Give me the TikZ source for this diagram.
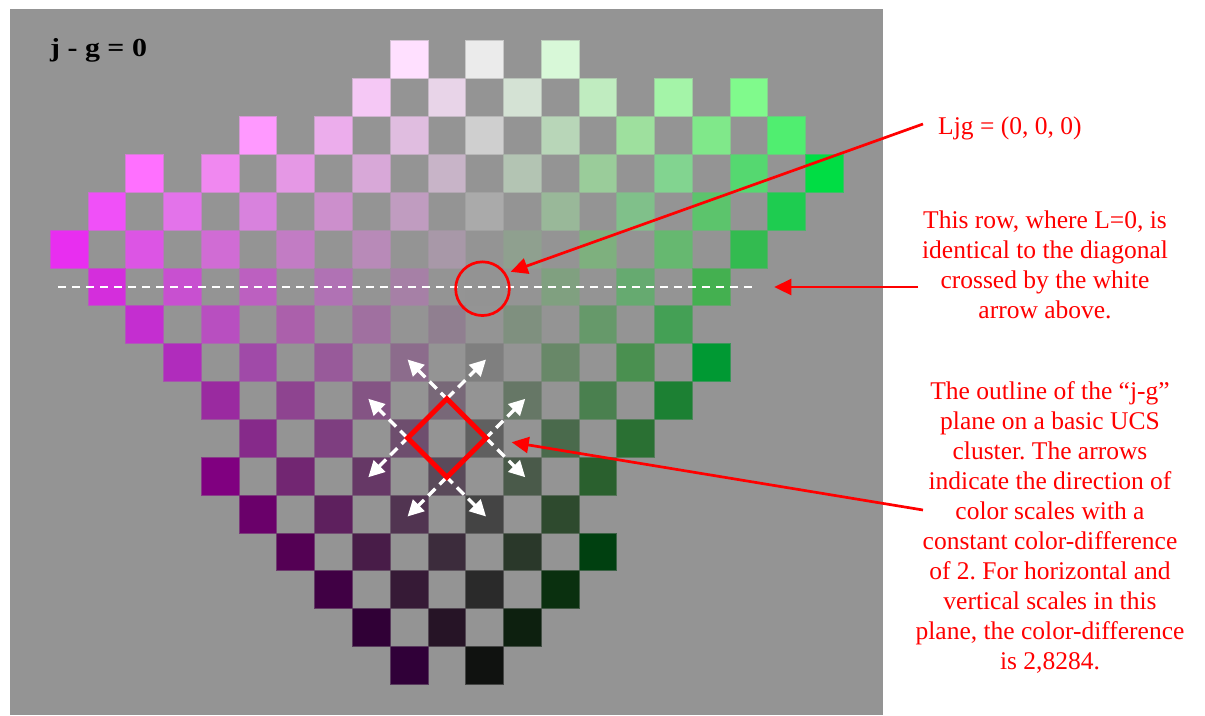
\documentclass[tikz,border=0pt]{standalone}
\usepackage{graphicx}
\usepackage{fontspec}
\setmainfont{Liberation Serif}
\frenchspacing
\usetikzlibrary{arrows.meta,shapes.geometric,calc}
\pgfdeclarelayer{front}
\pgfsetlayers{main,front}
\definecolor{bg}{HTML}{949494}
\definecolor{annot}{HTML}{FF0000}
\tikzset{
  cellsq/.style={line width=0.8pt},
  redarrow/.style={draw=annot, line width=2.7pt, -{Triangle[length=17pt,width=16pt]}},
  whitearrow/.style={draw=white, line width=3.4pt, dash pattern=on 10pt off 6pt,
     {Triangle[length=16pt,width=16pt]}-{Triangle[length=16pt,width=16pt]}},
  rowline/.style={draw=white, line width=2pt, dash pattern=on 8pt off 6pt},
  redtext/.style={text=annot, font=\fontsize{25.5}{30}\selectfont, align=center, inner sep=0pt},
  zeromark/.style={circle, draw=annot, line width=2.7pt, minimum size=53.7pt, inner sep=0pt, outer sep=6pt},
  clusterbox/.style={diamond, aspect=1, draw=annot, line width=5pt, minimum width=78.5pt,
     minimum height=78.5pt, inner sep=0pt, outer sep=0pt},
}
\begin{document}
\begin{tikzpicture}[x=1pt,y=-1pt]
\useasboundingbox (0,0) rectangle (1205,715);
\fill[bg] (10,9) rectangle (882.7,715);
% coloured cells of the checkerboard
\foreach \ri/\ci/\hx in {
 0/9/FFE0FF, 0/11/EBEBEB, 0/13/D8F8D8,
 1/8/F5C8F5, 1/10/E8D4E8, 1/12/D4E2D4, 1/14/C0ECC0, 1/16/A4F4A8, 1/18/80FA8C,
 2/5/FF99FF, 2/7/ECADEC, 2/9/E0BDE0, 2/11/CFCFCF, 2/13/B8D6B8, 2/15/9EE09E, 2/17/80E88A, 2/19/50EE70,
 3/2/FF70FF, 3/4/F088F0, 3/6/E598E5, 3/8/D8A8D8, 3/10/C8B4C8, 3/12/B3C4B3, 3/14/9ACC9A, 3/16/82D490, 3/18/55D870, 3/20/00DD44,
 4/1/F050F8, 4/3/E373EA, 4/5/D882DD, 4/7/CC8FCC, 4/9/C09CC0, 4/11/AAAAAA, 4/13/99B899, 4/15/80C08A, 4/17/5CC46C, 4/19/1ECC50,
 5/0/E82EF0, 5/2/DC55E4, 5/4/D06CD4, 5/6/C27CC4, 5/8/B88AB8, 5/10/A898A8, 5/12/8FA08F, 5/14/7EB07E, 5/16/66B870, 5/18/33BB50,
 6/1/D42EDC, 6/3/C850D0, 6/5/BC60C0, 6/7/B072B4, 6/9/A680A6, 6/11/939393, 6/13/80A080, 6/15/66AA70, 6/17/44B050,
 7/2/C42ED0, 7/4/B84FC0, 7/6/AB60AB, 7/8/A070A0, 7/10/907F90, 7/12/7F907F, 7/14/66996A, 7/16/44A055,
 8/3/B02CBC, 8/5/A04AA8, 8/7/985A9A, 8/9/8C6C8C, 8/11/7F7F7F, 8/13/688868, 8/15/4A9050, 8/17/009933,
 9/4/9A2AA0, 9/6/8E4490, 9/8/845484, 9/10/786878, 9/12/667766, 9/14/4A804F, 9/16/1C8033,
 10/5/862A8A, 10/7/7E3E80, 10/9/6E4E6E, 10/11/606060, 10/13/4A6A4C, 10/15/2A7033,
 11/4/800080, 11/6/722672, 11/8/663866, 11/10/5A4A5A, 11/12/4A5A4A, 11/14/2A602E,
 12/5/6A006A, 12/7/5E205E, 12/9/513451, 12/11/444444, 12/13/2E4A2E,
 13/6/540054, 13/8/481C48, 13/10/3C2C3C, 13/12/2A382A, 13/14/004010,
 14/7/400044, 14/9/361A36, 14/11/2A2A2A, 14/13/0A300F,
 15/8/300036, 15/10/261426, 15/12/0D200F,
 16/9/300038, 16/11/101210}{
  \definecolor{cellc}{HTML}{\hx}
  \filldraw[cellsq, fill=cellc, draw=cellc!60!bg] ({50.25+\ci*37.77},{40.7+\ri*37.87}) rectangle ++(37.77,37.87);
}
% title
\node[anchor=base west, inner sep=0pt, font=\fontsize{26}{26}\selectfont\bfseries] (title) at (50,56) {\scalebox{1.15}[1]{j - g = 0}};
% row L=0
\coordinate (rowL) at (58,287.3);
\coordinate (rowR) at (752.7,287.3);
\draw[rowline] (rowL) -- (rowR);
\node[zeromark] (zero) at (482.5,288.7) {};
% UCS cluster outline
\begin{pgfonlayer}{front}
\node[clusterbox] (cluster) at (446.8,438) {};
\end{pgfonlayer}
\draw[whitearrow] ($(cluster.west)!-1!(cluster.north)$) -- ($(cluster.west)!2!(cluster.north)$);
\draw[whitearrow] ($(cluster.north)!-1!(cluster.east)$) -- ($(cluster.north)!2!(cluster.east)$);
\draw[whitearrow] ($(cluster.east)!-1!(cluster.south)$) -- ($(cluster.east)!2!(cluster.south)$);
\draw[whitearrow] ($(cluster.south)!-1!(cluster.west)$) -- ($(cluster.south)!2!(cluster.west)$);
% annotations
\node[redtext, anchor=base west] (ljg) at (938,134) {Ljg = (0, 0, 0)};
\node[redtext, anchor=north] (rowtext) at (1045,210.6) {This row, where L=0, is\\identical to the diagonal\\crossed by the white\\arrow above.};
\node[redtext, anchor=north] (outline) at (1050,381.4) {The outline of the “j-g”\\plane on a basic UCS\\cluster. The arrows\\indicate the direction of\\color scales with a\\constant color-difference\\of 2. For horizontal and\\vertical scales in this\\plane, the color-difference\\is 2,8284.};
\coordinate (ljgfrom) at (923,124);
\coordinate (rowfrom) at (918,287);
\coordinate (rowtip) at (774.3,287);
\coordinate (outfrom) at (923,510);
\draw[redarrow] (ljgfrom) -- (zero.31);
\draw[redarrow] (rowfrom) -- (rowtip);
\draw[redarrow, shorten >=26pt] (outfrom) -- (cluster.east);
\end{tikzpicture}
\end{document}
